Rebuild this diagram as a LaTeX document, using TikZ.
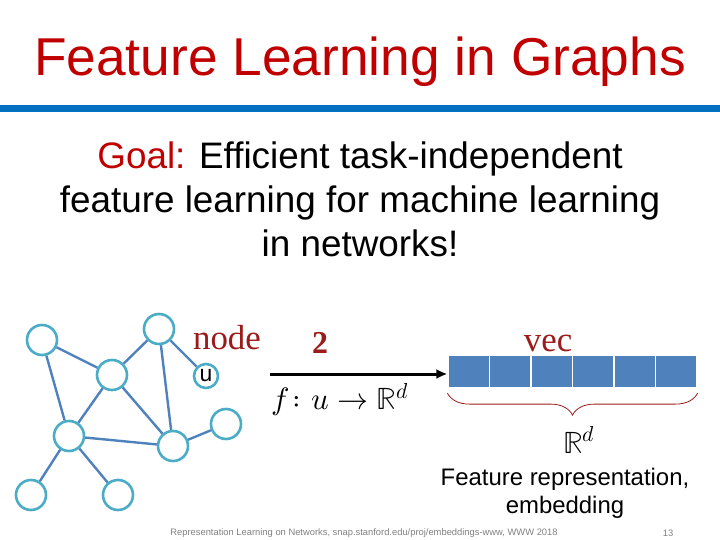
\documentclass[tikz,border=0pt]{standalone}
\usepackage{amsmath}
\usepackage{fontspec}
\usepackage{unicode-math}
\setmainfont{Liberation Sans}
\setmathfont{Latin Modern Math}
\newfontfamily\serifrm{Liberation Serif}
\usepackage{xcolor}
\usetikzlibrary{arrows.meta,positioning,decorations.pathreplacing}
\definecolor{titlered}{HTML}{C00000}
\definecolor{darkred}{HTML}{9B1B1B}
\definecolor{barblue}{HTML}{0070C0}
\definecolor{edgeblue}{HTML}{4F81BD}
\definecolor{ringteal}{HTML}{4BACC6}

\begin{document}
\begin{tikzpicture}[
  x=1bp,y=-1bp,
  node distance=4bp,
  vnode/.style={circle,draw=ringteal,line width=2.6bp,fill=white,minimum size=30bp,inner sep=0pt},
  unode/.style={circle,draw=ringteal,line width=2.6bp,fill=white,minimum size=24bp,inner sep=0pt,font=\fontsize{23}{23}\selectfont},
  edge/.style={draw=edgeblue,line width=2.4bp},
  cell/.style={rectangle,fill=edgeblue,draw=white,line width=1.2bp,minimum width=41.5bp,minimum height=32bp,inner sep=0pt},
  redlbl/.style={text=darkred,font=\serifrm\fontsize{35}{35}\selectfont},
  arr/.style={-{Latex[length=11bp,width=10bp]},line width=3bp}
]
\useasboundingbox (0,0) rectangle (720,540);
% title and bar
\node[text=titlered,font=\fontsize{53.5}{53.5}\selectfont] (title) at (360,62) {Feature Learning in Graphs};
\fill[barblue] (0,105) rectangle (720,112);
% goal
\node[align=center,font=\fontsize{37}{44}\selectfont] (goal) at (360,199)
  {\textcolor{titlered}{Goal:} Efficient task-independent\\feature learning for machine learning\\in networks!};
% graph
\node[vnode] (a) at (42,340) {};
\node[vnode] (b) at (159,329) {};
\node[vnode] (c) at (112,375) {};
\node[unode] (u) at (206,376) {u};
\node[vnode] (d) at (69,436) {};
\node[vnode] (e) at (173,446) {};
\node[vnode] (f) at (226,424) {};
\node[vnode] (g) at (31,495) {};
\node[vnode] (h) at (118,495) {};
\foreach \s/\t in {a/c,a/d,b/c,b/u,b/e,c/d,c/e,d/e,e/f,d/g,d/h}
  \path[edge] (\s) -- (\t);
\node[redlbl] (nodelbl) at (227,338) {node};
% embedding vector
\foreach \i in {1,...,6}
  \node[cell] (v\i) at ({448+41.5*(\i-0.5)},371.5) {};
\node[redlbl,above=0bp of v3.north east,xshift=-25bp] (vec) {vec};
\coordinate (start) at (270,374);
\draw[arr] (start) -- (start -| v1.west);
\node[redlbl,font=\serifrm\bfseries\fontsize{32}{32}\selectfont] (two) at (320,343) {2};
\node[font=\fontsize{31}{31}\selectfont] (map) at (340,400) {$f\colon u\rightarrow\mathbb{R}^d$};
\draw[darkred,line width=0.8bp,decorate,decoration={brace,mirror,amplitude=22bp}]
  ([yshift=-5bp]v1.south west) -- ([yshift=-5bp]v6.south east);
\node[font=\fontsize{31}{31}\selectfont] (rd) at (579,440) {$\mathbb{R}^d$};
\node[align=center,font=\fontsize{24}{28}\selectfont] (feat) at (565,493) {Feature representation,\\embedding};
% footer
\node[text=gray,font=\fontsize{9.4}{10}\selectfont] (foot) at (364,533) {Representation Learning on Networks, snap.stanford.edu/proj/embeddings-www, WWW 2018};
\node[text=gray,font=\fontsize{9.4}{10}\selectfont] (page) at (668,533) {13};
\end{tikzpicture}
\end{document}
